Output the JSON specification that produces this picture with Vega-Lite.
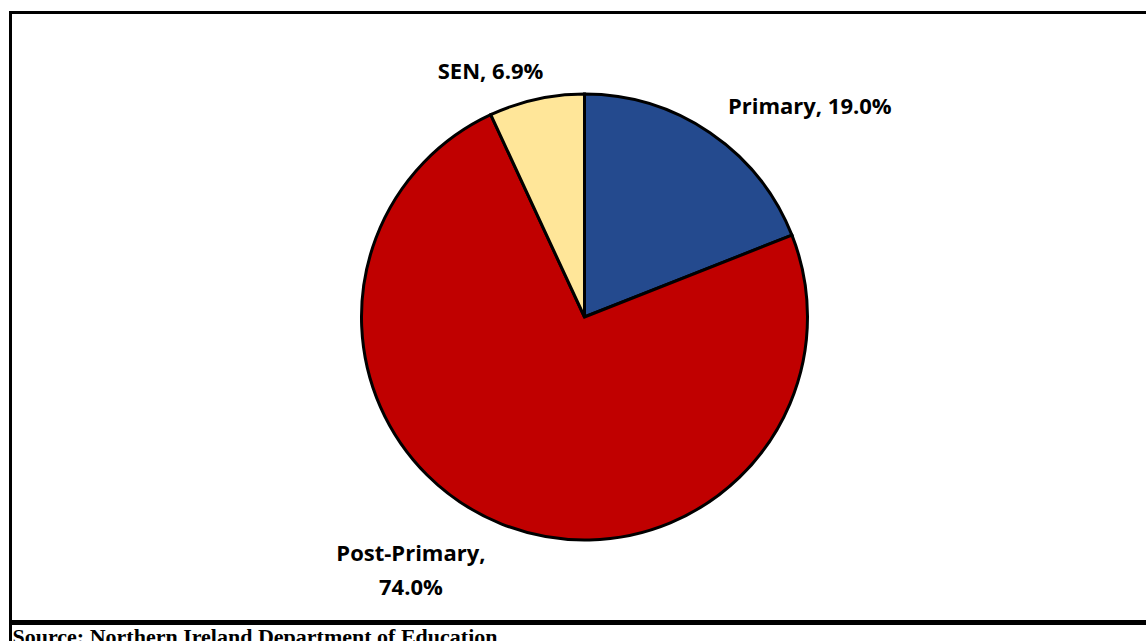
{
  "$schema": "https://vega.github.io/schema/vega-lite/v6.json",
  "background": "white",
  "padding": {"left": 8.5, "top": 10.5, "right": 0, "bottom": 0},
  "spacing": -3,
  "config": {"view": {"stroke": "black", "strokeWidth": 3}},
  "vconcat": [
    {
      "width": 1148,
      "height": 609,
      "view": {"stroke": "black", "strokeWidth": 3},
      "data": {
        "values": [
          {"category": "Primary", "value": 19.0, "ord": 1, "label": "Primary, 19.0%"},
          {"category": "Post-Primary", "value": 74.0, "ord": 2, "label": "Post-Primary,\n74.0%"},
          {"category": "SEN", "value": 6.9, "ord": 3, "label": "SEN, 6.9%"}
        ]
      },
      "encoding": {
        "theta": {"field": "value", "type": "quantitative", "stack": true},
        "order": {"field": "ord", "type": "quantitative"}
      },
      "layer": [
        {
          "mark": {"type": "arc", "radius": 223, "stroke": "black", "strokeWidth": 3},
          "encoding": {
            "color": {
              "field": "category",
              "type": "nominal",
              "scale": {"domain": ["Primary", "Post-Primary", "SEN"], "range": ["#244A8E", "#C00000", "#FFE699"]},
              "legend": null
            }
          }
        },
        {
          "mark": {"type": "text", "radius": 260, "font": "Open Sans", "fontWeight": "bold", "fontSize": 22, "align": "center", "baseline": "alphabetic", "color": "black", "dx": 79, "dy": 12},
          "encoding": {"text": {"condition": {"test": "datum.category === 'Primary'", "field": "label"}, "value": ""}}
        },
        {
          "mark": {"type": "text", "radius": 260, "font": "Open Sans", "fontWeight": "bold", "fontSize": 22, "align": "center", "baseline": "alphabetic", "color": "black", "dx": -77, "dy": 3, "lineBreak": "\n", "lineHeight": 34},
          "encoding": {"text": {"condition": {"test": "datum.category === 'Post-Primary'", "field": "label"}, "value": ""}}
        },
        {
          "mark": {"type": "text", "radius": 260, "font": "Open Sans", "fontWeight": "bold", "fontSize": 22, "align": "center", "baseline": "alphabetic", "color": "black", "dx": -38, "dy": 16},
          "encoding": {"text": {"condition": {"test": "datum.category === 'SEN'", "field": "label"}, "value": ""}}
        }
      ]
    },
    {
      "width": 1148,
      "height": 46,
      "data": {"values": [{"source": "Source: Northern Ireland Department of Education"}]},
      "mark": {"type": "text", "font": "Liberation Serif", "fontWeight": "bold", "fontSize": 22, "align": "left", "baseline": "alphabetic", "color": "black", "dx": 2, "dy": -3},
      "encoding": {
        "x": {"field": "source", "type": "nominal", "axis": null, "scale": {"padding": 0, "align": 0}},
        "text": {"field": "source"}
      }
    }
  ]
}
